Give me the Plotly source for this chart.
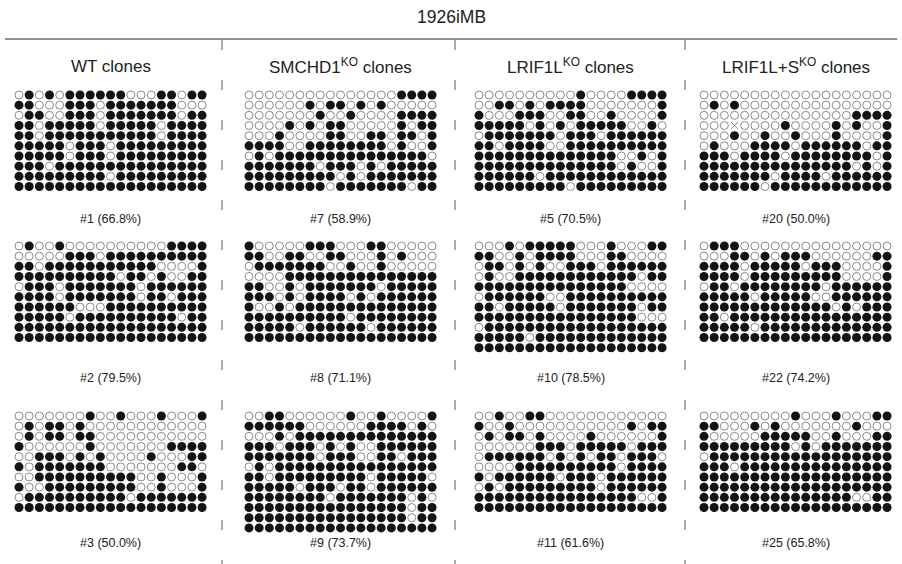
import plotly.graph_objects as go

W, H = 902, 564
title = "1926iMB"
groups = ["WT clones", "SMCHD1<sup>KO</sup> clones", "LRIF1L<sup>KO</sup> clones", "LRIF1L+S<sup>KO</sup> clones"]
labels = [["#1 (66.8%)", "#2 (79.5%)", "#3 (50.0%)"],
          ["#7 (58.9%)", "#8 (71.1%)", "#9 (73.7%)"],
          ["#5 (70.5%)", "#10 (78.5%)", "#11 (61.6%)"],
          ["#20 (50.0%)", "#22 (74.2%)", "#25 (65.8%)"]]

# 1 = methylated (filled), 0 = unmethylated (open), x = no data
clone_1 = ["0101011111100011011", "1100011101111111000", "0110011101111111011",
           "1101111101111101111", "1101111111111101111", "1111101110111111111",
           "1111101110111111111", "1110111111111111111", "1111111110111111111",
           "1111111111111111111"]
clone_2 = ["0100100000000001111", "0000011101111111111", "1101111111111100001",
           "1111111111011010011", "0111011111110111111", "1111011111110110111",
           "1111110001111111111", "1111101111111111011", "1111111111111111111",
           "1111111111111111111"]
clone_3 = ["0000000100100010001", "0101101000000000000", "0101101100000000000",
           "1000000100000001111", "0011101010000100011", "1011111110000000110",
           "0011111111110010001", "1001111111110010001", "0111111111101111111",
           "1111111111111111111"]
clone_7 = ["0000000000000001111", "0000001011010100000", "0000000100100001111",
           "0000101011000001011", "0001000011001101101", "1111001111111101001",
           "0101111111111111110", "1111111011101011111", "1111111110101111111",
           "1111111101111111011"]
clone_8 = ["1000001110001100000", "1100110011000101000", "0111111100100100000",
           "0000111111111111111", "1100101111111011111", "1110101111010111111",
           "1001011111111111111", "1111111111011111111", "1111101111110111111",
           "1111111111111111111"]
clone_9 = ["0011000000100100001", "1111110000001111010", "0001011111111111111",
           "1110111010100111111", "1111111011100110111", "0101111111111111111",
           "1101111111110111110", "1111101110110111111", "1111111101111111010",
           "1111111111111111011", "1111111111111111011", "1111111111111111111"]
clone_5 = ["0000000000100001111", "0011010111100000001", "1000111001100100001",
           "1111101010111110010", "0111111101110111111", "1101111001111111111",
           "1111111111111100101", "1111111111111101001", "1111110111111111111",
           "1111111110111111111"]
clone_10 = ["0001011111000100011", "1100101111000110000", "0110101001110111111",
            "0100111111111111011", "1111111111111110000", "0111111001111111111",
            "1101111101111111011", "1111111111111111000", "0111111111111111111",
            "1111101111111111111", "1111111111111111111"]
clone_11 = ["0010011000000000000", "1001000000000001011", "0101101000010000001",
            "0000001110111110111", "0111111010101101110", "0000111111111101111",
            "1011111101110111111", "0101111111110111111", "1111111111111111001",
            "1111111111111111111"]
clone_20 = ["0000000000000000000", "0101000000000000000", "0000000000000001111",
            "000x000010000101001", "0001001001000100001", "0100011110111111011",
            "1110111101111111101", "1111111111111110101", "1111111011110111111",
            "1111110111111111111"]
clone_22 = ["0111000000000000000", "0001101011100000011", "1111011111011100001",
            "1111011111111100001", "0110111111110111111", "1111101111100111111",
            "1111111111111010111", "1101111111111111111", "1111101111111111111",
            "1111111111111111111"]
clone_25 = ["0000000001000100011", "1100010100000001000", "1000001111100100011",
            "1111111110101111111", "0111111111111111111", "1110111111111111111",
            "1111111111111111111", "1111111111111111111", "1111111111111110011",
            "1111111111111111111"]

panels = [[clone_1, clone_2, clone_3],
          [clone_7, clone_8, clone_9],
          [clone_5, clone_10, clone_11],
          [clone_20, clone_22, clone_25]]

# layout geometry (pixels)
pitch = 10.17
col_x0 = [19, 249, 479, 704]
row_y0 = [95, 246, 416]
label_y = [219, 378, 543]
header_y = 66
sep_x = [222, 455, 685]

fig = go.Figure()
layout = dict(width=W, height=H, margin=dict(l=0, r=0, t=0, b=0),
              paper_bgcolor="white", plot_bgcolor="white", showlegend=False)
annotations = []
shapes = []
k = 0
for g in range(4):
    for r in range(3):
        grid = panels[g][r]
        nrow, ncol = len(grid), len(grid[0])
        k += 1
        xa = "x" if k == 1 else f"x{k}"
        ya = "y" if k == 1 else f"y{k}"
        xk = "xaxis" if k == 1 else f"xaxis{k}"
        yk = "yaxis" if k == 1 else f"yaxis{k}"
        x0 = col_x0[g]
        y0 = row_y0[r]
        layout[xk] = dict(domain=[(x0 - pitch / 2) / W, (x0 + (ncol - 0.5) * pitch) / W],
                          range=[-0.5, ncol - 0.5], visible=False, anchor=ya)
        layout[yk] = dict(domain=[1 - (y0 + (nrow - 0.5) * pitch) / H, 1 - (y0 - pitch / 2) / H],
                          range=[nrow - 0.5, -0.5], visible=False, anchor=xa)
        fx, fy, ox, oy, mx, my = [], [], [], [], [], []
        for i, row in enumerate(grid):
            for j, c in enumerate(row):
                if c == "1":
                    fx.append(j); fy.append(i)
                elif c == "0":
                    ox.append(j); oy.append(i)
                else:
                    mx.append(j); my.append(i)
        fig.add_trace(go.Scatter(x=ox, y=oy, mode="markers", xaxis=xa, yaxis=ya,
                                 marker=dict(size=8, color="white", line=dict(color="#8a8a8a", width=1)),
                                 hoverinfo="skip"))
        fig.add_trace(go.Scatter(x=fx, y=fy, mode="markers", xaxis=xa, yaxis=ya,
                                 marker=dict(size=9, color="#141414", line=dict(width=0)),
                                 hoverinfo="skip"))
        if mx:
            fig.add_trace(go.Scatter(x=mx, y=my, mode="markers", xaxis=xa, yaxis=ya,
                                     marker=dict(size=7, symbol="x-thin", color="#8a8a8a",
                                                 line=dict(color="#8a8a8a", width=1)),
                                     hoverinfo="skip"))
        cx = (x0 + (ncol - 1) * pitch / 2) / W
        annotations.append(dict(text=labels[g][r], x=cx, y=1 - label_y[r] / H, xref="paper", yref="paper",
                                showarrow=False, xanchor="center", yanchor="middle",
                                font=dict(family="Liberation Sans, Arial", size=12.5, color="#222")))
        if r == 0:
            annotations.append(dict(text=groups[g], x=cx, y=1 - header_y / H, xref="paper", yref="paper",
                                    showarrow=False, xanchor="center", yanchor="middle",
                                    font=dict(family="Liberation Sans, Arial", size=17, color="#222")))

annotations.append(dict(text=title, x=0.5, y=1 - 17 / H, xref="paper", yref="paper", showarrow=False,
                        xanchor="center", yanchor="middle",
                        font=dict(family="Liberation Sans, Arial", size=17.5, color="#222")))
shapes.append(dict(type="line", xref="paper", yref="paper", x0=5 / W, x1=897 / W,
                   y0=1 - 39 / H, y1=1 - 39 / H, line=dict(color="#222", width=1)))
for sx in sep_x:
    shapes.append(dict(type="line", xref="paper", yref="paper", x0=sx / W, x1=sx / W,
                       y0=1 - 40 / H, y1=0, line=dict(color="#555", width=1, dash="10px,30px")))
layout["annotations"] = annotations
layout["shapes"] = shapes
fig.update_layout(**layout)
fig.write_html("out.html", config={"displayModeBar": False},
               post_script="document.body.style.margin='0';document.body.style.overflow='hidden';")
